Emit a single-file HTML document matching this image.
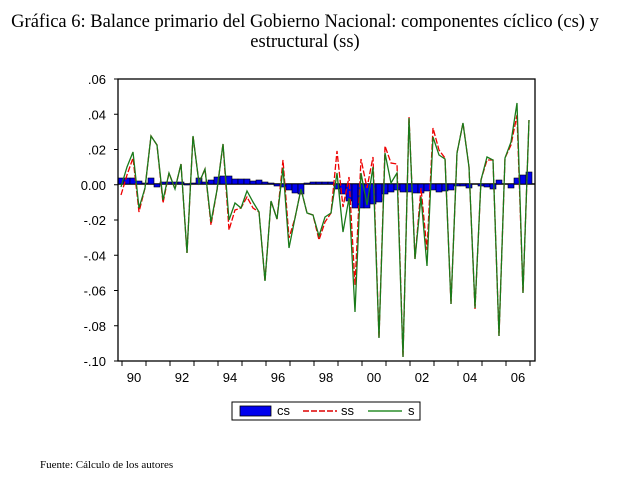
<!DOCTYPE html>
<html><head><meta charset="utf-8"><style>
body{margin:0;background:#fff;width:626px;height:488px;overflow:hidden}
svg{display:block}
.t{font-family:"Liberation Serif",serif;font-size:18.5px}
.a{font-family:"Liberation Sans",sans-serif;font-size:13px}
</style></head><body>
<svg id="s" width="626" height="488" xmlns="http://www.w3.org/2000/svg">
<text class="t" x="305" y="27" text-anchor="middle">Gráfica 6: Balance primario del Gobierno Nacional: componentes cíclico (cs) y</text>
<text class="t" x="305" y="47" text-anchor="middle">estructural (ss)</text>
<text x="40" y="468" font-family="Liberation Serif,serif" font-size="11">Fuente: Cálculo de los autores</text>
<g id="g"></g>
<rect x="118" y="79" width="417" height="282" fill="none" stroke="#000" stroke-width="1.3"/>
<rect x="232" y="402" width="188" height="18" fill="#fff" stroke="#000"/>
<rect x="240" y="406" width="31" height="10" fill="#0000ee" stroke="#000" stroke-width="0.8"/>
<text class="a" x="277" y="415">cs</text>
<line x1="303" y1="411" x2="337" y2="411" stroke="#d00" stroke-width="1.5" stroke-dasharray="6,2"/>
<text class="a" x="341" y="415">ss</text>
<line x1="368" y1="411" x2="402" y2="411" stroke="#070" stroke-width="1.2"/>
<text class="a" x="408" y="415">s</text>
</svg>
<script>
var g=document.getElementById('g'),h='';
var Y0=79,Yr=282;
function y(v){return Y0+(0.06-v)/0.16*Yr;}
['.06','.04','.02','0.00','-.02','-.04','-.06','-.08','-.10'].forEach(function(l,i){var v=0.06-0.02*i,yy=y(v);
h+='<line x1="114" x2="118" y1="'+yy+'" y2="'+yy+'" stroke="#000"/><text class="a" x="106" y="'+(yy+5)+'" text-anchor="end">'+l+'</text>';});
for(var k=0;k<18;k++){var x=122+24*k;h+='<line x1="'+x+'" x2="'+x+'" y1="361" y2="366" stroke="#000"/>';}
for(var k=0;k<9;k++){var yr=(90+2*k)%100;h+='<text class="a" x="'+(134+48*k)+'" y="382" text-anchor="middle">'+(yr<10?'0'+yr:yr)+'</text>';}
var cs=[-6,-6,-6,-3,-1,-6,3,-2,-2,-2,-2,1,-1,-6,-2,-4,-7,-8,-8,-5,-5,-5,-3,-4,-2,-1,2,3,6,9,10,-1,-2,-2,-2,-2,5,10,17,24,24,24,20,18,10,8,6,8,8,9,9,7,6,8,7,6,2,2,4,0,2,3,5,-4,0,4,-6,-9,-12];
h+='<line x1="118" x2="535" y1="184" y2="184" stroke="#000" stroke-width="1.5"/>';
for(var i=0;i<cs.length;i++){var x=118+6*i,v=cs[i];h+='<rect x="'+x+'" y="'+(v<0?184+v:184)+'" width="6" height="'+Math.abs(v)+'" fill="#0000ee" stroke="#000" stroke-width="0.6"/>';}
var s=[187,167,152,208,188,136,145,200,173,189,164,253,136,183,169,222,190,144,220,203,208,191,202,212,281,201,219,168,248,218,189,213,215,236,217,213,173,232,198,312,173,205,167,338,153,183,173,357,118,259,197,266,137,155,159,304,153,123,167,308,180,157,160,336,158,142,103,293,120];
var r=s.slice();var d={0:195,1:175,2:158,3:212,7:203,15:225,18:230,19:210,21:197,22:208,27:160,28:238,33:240,34:222,36:151,37:207,38:177,39:285,40:159,41:188,42:157,44:146,45:163,46:164,48:117,50:188,51:250,52:128,53:150,54:158,59:309,61:160,65:145,66:115};for(var k in d)r[k]=d[k];
function pl(a,c,da){var p=a.map(function(v,i){return (121+6*i)+','+v}).join(' ');return '<polyline points="'+p+'" fill="none" stroke="'+c+'" stroke-width="1.3"'+(da?' stroke-dasharray="6,2"':'')+'/>';}
h+=pl(r,'#e00',1)+pl(s,'#1a7a1a',0);
g.innerHTML=h;
</script>
</body></html>
